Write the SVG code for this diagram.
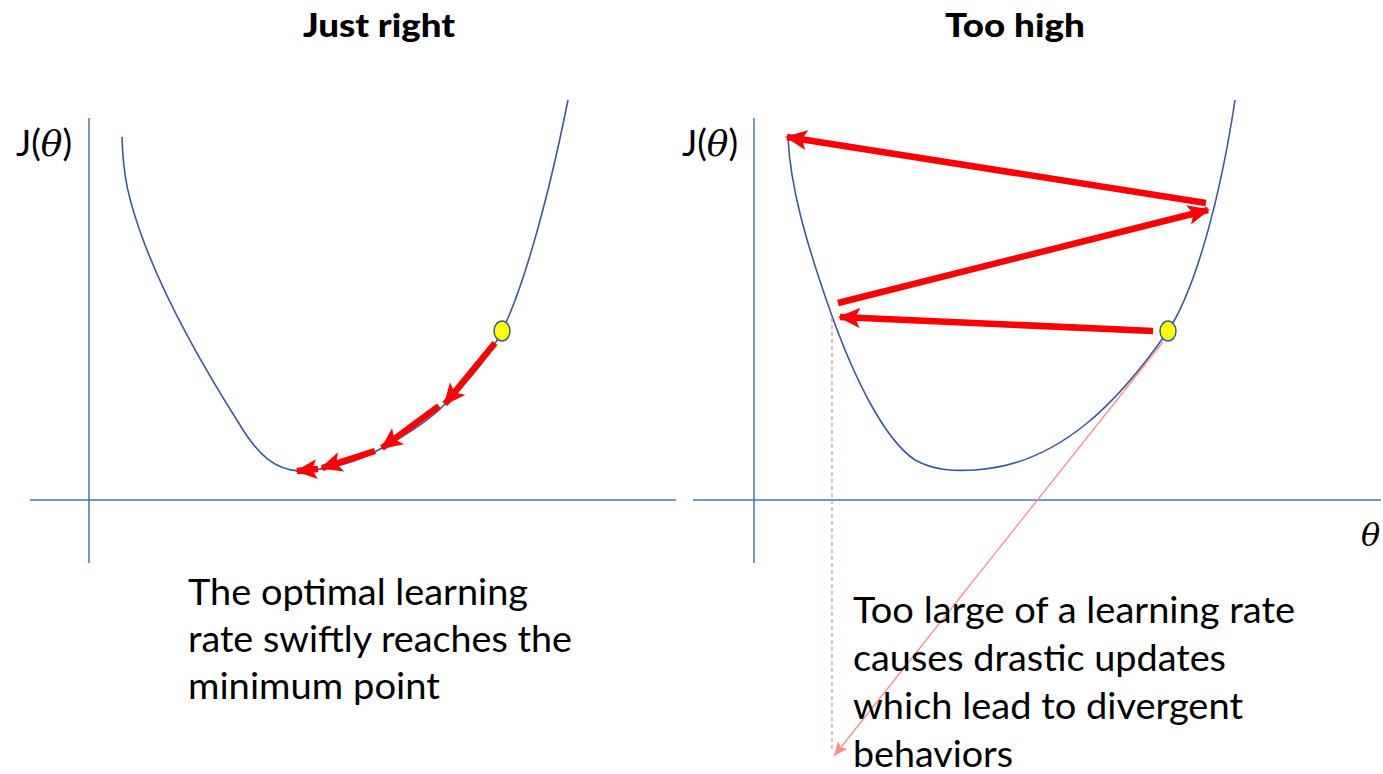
<svg xmlns="http://www.w3.org/2000/svg" width="1383" height="774" viewBox="0 0 1383 774">
<defs>
<style>
.axis{stroke:#4472C4;stroke-width:1.5;fill:none}
.curve{stroke:#3B5998;stroke-width:1.6;fill:none}
.step{stroke:#FF0000;stroke-width:6.5;fill:none;marker-end:url(#redhead)}
.pink{stroke:#FF8A8A;stroke-width:1.3;fill:none}
.dot{fill:#FFFF00;stroke:#3B5998;stroke-width:1.5}
.title{font-family:Lato,"Liberation Sans",sans-serif;font-weight:900;font-size:33px;fill:#000}
.note{font-family:Lato,"Liberation Sans",sans-serif;font-size:37px;fill:#000}
.lab{font-family:Lato,"Liberation Sans",sans-serif;font-size:36px;fill:#000}
.th{font-family:"DejaVu Serif","Liberation Serif",serif;font-style:italic}
</style>
<marker id="redhead" markerUnits="userSpaceOnUse" markerWidth="24" markerHeight="22" refX="20" refY="10" orient="auto">
<path d="M0,0 L22,10 L0,20 L5,10 Z" fill="#FF0000"/>
</marker>
<marker id="pinkhead" markerUnits="userSpaceOnUse" markerWidth="16" markerHeight="14" refX="14" refY="6" orient="auto">
<path d="M0,0 L14,6 L0,12 L3,6 Z" fill="#FF8A8A"/>
</marker>
</defs>
<rect width="1383" height="774" fill="#FFFFFF"/>

<g id="left-panel">
<text class="title" x="303" y="37" textLength="152" lengthAdjust="spacingAndGlyphs">Just right</text>
<line class="axis" x1="89" y1="118" x2="89" y2="563"/>
<line class="axis" x1="30" y1="500" x2="676" y2="500"/>
<text class="lab" x="16" y="156">J(<tspan class="th">θ</tspan>)</text>
<path class="curve" d="M122,137 C123,175 128,200 145,245 C170,310 205,370 240,425 C258,455 275,470 300,471 C340,469 365,458 382,448 C410,433 430,420 445,404 C470,380 490,355 502,331 C520,295 545,215 568,100"/>
<ellipse class="dot" cx="502" cy="331" rx="8" ry="10"/>
<g id="left-steps">
<line class="step" x1="495" y1="343" x2="445" y2="404"/>
<line class="step" x1="439" y1="406" x2="382" y2="448"/>
<line class="step" x1="375" y1="451" x2="322" y2="468"/>
<line class="step" x1="318" y1="469" x2="297" y2="471"/>
</g>
<text class="note" x="188" y="605" textLength="340" lengthAdjust="spacingAndGlyphs">The optimal learning</text>
<text class="note" x="188" y="652" textLength="384" lengthAdjust="spacingAndGlyphs">rate swiftly reaches the</text>
<text class="note" x="188" y="699" textLength="252" lengthAdjust="spacingAndGlyphs">minimum point</text>
</g>

<g id="right-panel">
<text class="title" x="945" y="37" textLength="140" lengthAdjust="spacingAndGlyphs">Too high</text>
<line class="axis" x1="754" y1="118" x2="754" y2="563"/>
<line class="axis" x1="693" y1="500" x2="1381" y2="500"/>
<text class="lab" x="682" y="156">J(<tspan class="th">θ</tspan>)</text>
<text class="th" x="1361" y="546" font-size="32" fill="#000">θ</text>
<path class="curve" d="M788,137 C790,185 805,240 832,316 C855,380 885,440 915,460 C935,471 955,471 975,470 C1060,465 1120,400 1168,331 C1195,290 1220,200 1235,100"/>
<ellipse class="dot" cx="1168" cy="331" rx="8" ry="10"/>
</g>

<g id="connectors">
<line class="step" x1="1153" y1="331" x2="840" y2="317"/>
<line class="step" x1="838" y1="303" x2="1208" y2="210"/>
<line class="step" x1="1206" y1="203" x2="787" y2="137"/>
<line class="pink" x1="832" y1="318" x2="832" y2="752" stroke-dasharray="4,3"/>
<line class="pink" x1="1163" y1="342" x2="834" y2="756" marker-end="url(#pinkhead)"/>
</g>

<g id="right-note">
<text class="note" x="853" y="623" textLength="442" lengthAdjust="spacingAndGlyphs">Too large of a learning rate</text>
<text class="note" x="853" y="671" textLength="373" lengthAdjust="spacingAndGlyphs">causes drastic updates</text>
<text class="note" x="853" y="719" textLength="390" lengthAdjust="spacingAndGlyphs">which lead to divergent</text>
<text class="note" x="853" y="767" textLength="160" lengthAdjust="spacingAndGlyphs">behaviors</text>
</g>
</svg>
